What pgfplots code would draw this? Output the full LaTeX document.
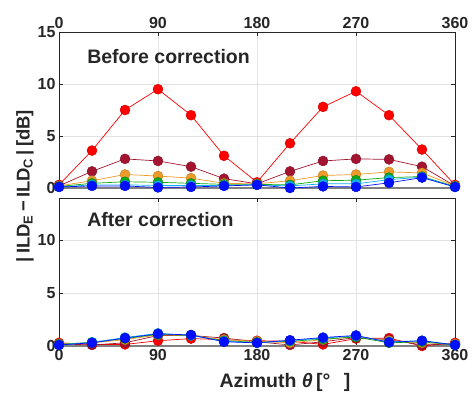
\documentclass[border=0pt]{standalone}
\usepackage{pgfplots}
\pgfplotsset{compat=1.18}
\usepackage{fontspec}
\setmainfont{Liberation Sans}
\definecolor{cred}{HTML}{FF0000}
\definecolor{cdred}{HTML}{A2142F}
\definecolor{corange}{HTML}{EC9A2A}
\definecolor{cgreen}{HTML}{10A810}
\definecolor{clblue}{HTML}{10B0F0}
\definecolor{cblue}{HTML}{0010FF}
\definecolor{txt}{HTML}{262626}
\pgfplotsset{
  common/.style={
    scale only axis, width=396pt, xmin=0, xmax=360,
    xtick={0,90,180,270,360},
    grid=major, grid style={gray!22, line width=0.7pt},
    axis line style={txt, line width=0.8pt},
    tick style={txt, line width=0.6pt}, major tick length=4pt,
    tick label style={font=\fontsize{16}{17}\selectfont\bfseries, text=txt},
    /pgf/number format/assume math mode=true,
    clip=false,
  },
  ser/.style={color=#1, line width=0.7pt, mark=*, mark size=5pt,
    mark options={fill=#1, draw=#1!80!black, line width=0.4pt}},
}
\begin{document}
\begin{tikzpicture}
\useasboundingbox (0,0) rectangle (473pt,392pt);
\begin{axis}[common, at={(59pt,204pt)}, anchor=south west, height=156pt,
  ymin=0, ymax=15, ytick={0,5,10,15}, xticklabel pos=upper]
\addplot[gray, line width=1.6pt, forget plot] coordinates {(0,0) (360,0)};
\addplot[ser=cred] coordinates {(0,0.3)(30,3.6)(60,7.5)(90,9.5)(120,7.0)(150,3.1)(180,0.55)(210,4.3)(240,7.8)(270,9.3)(300,7.0)(330,3.7)(360,0.3)};
\addplot[ser=cdred] coordinates {(0,0.2)(30,1.6)(60,2.8)(90,2.6)(120,2.05)(150,0.9)(180,0.4)(210,1.6)(240,2.6)(270,2.8)(300,2.75)(330,2.05)(360,0.2)};
\addplot[ser=corange] coordinates {(0,0.2)(30,0.7)(60,1.3)(90,1.15)(120,0.95)(150,0.45)(180,0.4)(210,0.7)(240,1.2)(270,1.3)(300,1.55)(330,1.45)(360,0.2)};
\addplot[ser=cgreen] coordinates {(0,0.15)(30,0.45)(60,0.6)(90,0.55)(120,0.45)(150,0.35)(180,0.35)(210,0.3)(240,0.7)(270,0.75)(300,1.0)(330,1.1)(360,0.15)};
\addplot[ser=clblue] coordinates {(0,0.1)(30,0.3)(60,0.3)(90,0.25)(120,0.25)(150,0.25)(180,0.3)(210,0.2)(240,0.4)(270,0.4)(300,0.8)(330,1.05)(360,0.1)};
\addplot[ser=cblue] coordinates {(0,0.1)(30,0.2)(60,0.2)(90,0.05)(120,0.1)(150,0.2)(180,0.3)(210,0.0)(240,0.15)(270,0.1)(300,0.5)(330,1.0)(360,0.1)};
\node[anchor=west, text=txt, font=\fontsize{19.5}{21}\selectfont\bfseries] at (axis cs:22.5,12.6) {Before correction};
\end{axis}
\begin{axis}[common, at={(59pt,46pt)}, anchor=south west, height=148pt,
  ymin=0, ymax=14, ytick={0,5,10}]
\addplot[gray, line width=1.6pt, forget plot] coordinates {(0,0) (360,0)};
\addplot[ser=cred] coordinates {(0,0.3)(30,0.15)(60,0.15)(90,0.5)(120,0.7)(150,0.6)(180,0.5)(210,0.45)(240,0.15)(270,0.7)(300,0.75)(330,0.0)(360,0.3)};
\addplot[ser=cdred] coordinates {(0,0.2)(30,0.1)(60,0.3)(90,1.0)(120,1.0)(150,0.75)(180,0.4)(210,0.1)(240,0.4)(270,0.8)(300,0.6)(330,0.1)(360,0.2)};
\addplot[ser=corange] coordinates {(0,0.2)(30,0.3)(60,0.6)(90,1.05)(120,1.0)(150,0.6)(180,0.45)(210,0.3)(240,0.6)(270,0.9)(300,0.5)(330,0.3)(360,0.2)};
\addplot[ser=cgreen] coordinates {(0,0.15)(30,0.35)(60,0.7)(90,1.1)(120,1.0)(150,0.5)(180,0.35)(210,0.45)(240,0.65)(270,0.85)(300,0.3)(330,0.4)(360,0.1)};
\addplot[ser=clblue] coordinates {(0,0.1)(30,0.35)(60,0.8)(90,1.2)(120,1.0)(150,0.45)(180,0.3)(210,0.5)(240,0.75)(270,0.95)(300,0.4)(330,0.5)(360,0.1)};
\addplot[ser=cblue] coordinates {(0,0.1)(30,0.3)(60,0.75)(90,1.15)(120,1.05)(150,0.4)(180,0.3)(210,0.55)(240,0.8)(270,1.0)(300,0.35)(330,0.5)(360,0.1)};
\node[anchor=west, text=txt, font=\fontsize{19.5}{21}\selectfont\bfseries] at (axis cs:22.5,12.0) {After correction};
\end{axis}
\node[rotate=90, text=txt, font=\fontsize{18.5}{20}\selectfont\bfseries] at (25pt,206pt) {|\,ILD\textsubscript{E}\,−\,ILD\textsubscript{C}\,|\,[dB]};
\node[text=txt, font=\fontsize{19.5}{21}\selectfont\bfseries] at (285pt,10pt) {Azimuth \textit{θ}\,[°\hspace{0.7em}]};
\end{tikzpicture}
\end{document}
